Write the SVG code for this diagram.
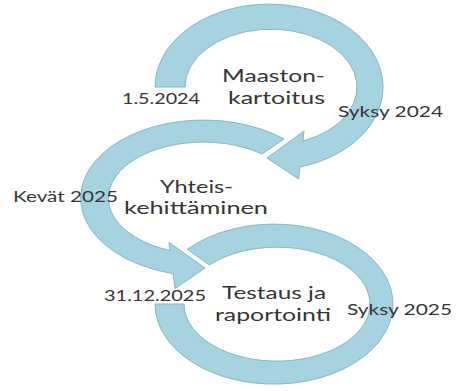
<svg xmlns="http://www.w3.org/2000/svg" width="461" height="391" viewBox="0 0 461 391">
  <style>
    .band { fill: #A5D3DF; stroke: #86B5C5; stroke-width: 1; stroke-linejoin: miter; }
    .lbl { font-family: Lato, "Open Sans", "Liberation Sans", sans-serif; fill: #363636; }
    .main { font-size: 17.5px; }
    .date { font-size: 16px; }
  </style>
  <rect width="461" height="391" fill="#FFFFFF"/>
  <g id="connectors">
    <path id="arrow-1" class="band" d="M155,87 A114,83 0 1 1 300,167 L298.6,179 L267,158 L304,131 L303,141 A86,58 0 1 0 185,87 Z"/>
    <path id="arrow-2" class="band" d="M284,139 A123,78 0 1 0 173,273.6 L175,288.5 L205,268 L169,242.5 L170,250.5 A95,56 0 1 1 262,154 Z"/>
    <path id="arrow-3" class="band" d="M187.3,249.3 A119,80 0 1 1 155,304 L184,304 A93,57 0 1 0 209.4,265 Z"/>
  </g>
  <g id="maastonkartoitus">
    <text class="lbl main" x="222" y="82" textLength="103" lengthAdjust="spacingAndGlyphs">Maaston-</text>
    <text class="lbl main" x="228" y="103.5" textLength="97" lengthAdjust="spacingAndGlyphs">kartoitus</text>
    <text class="lbl date" x="122" y="104" textLength="78" lengthAdjust="spacingAndGlyphs">1.5.2024</text>
    <text class="lbl date" x="338" y="117" textLength="105" lengthAdjust="spacingAndGlyphs">Syksy 2024</text>
  </g>
  <g id="yhteiskehittaminen">
    <text class="lbl main" x="160" y="192.5" textLength="73" lengthAdjust="spacingAndGlyphs">Yhteis-</text>
    <text class="lbl main" x="124" y="214" textLength="144" lengthAdjust="spacingAndGlyphs">kehittäminen</text>
    <text class="lbl date" x="13" y="202" textLength="105" lengthAdjust="spacingAndGlyphs">Kevät 2025</text>
  </g>
  <g id="testaus">
    <text class="lbl main" x="222" y="299" textLength="104" lengthAdjust="spacingAndGlyphs">Testaus ja</text>
    <text class="lbl main" x="215" y="320.5" textLength="116" lengthAdjust="spacingAndGlyphs">raportointi</text>
    <text class="lbl date" x="104" y="301" textLength="102" lengthAdjust="spacingAndGlyphs">31.12.2025</text>
    <text class="lbl date" x="347" y="315" textLength="105" lengthAdjust="spacingAndGlyphs">Syksy 2025</text>
  </g>
</svg>
